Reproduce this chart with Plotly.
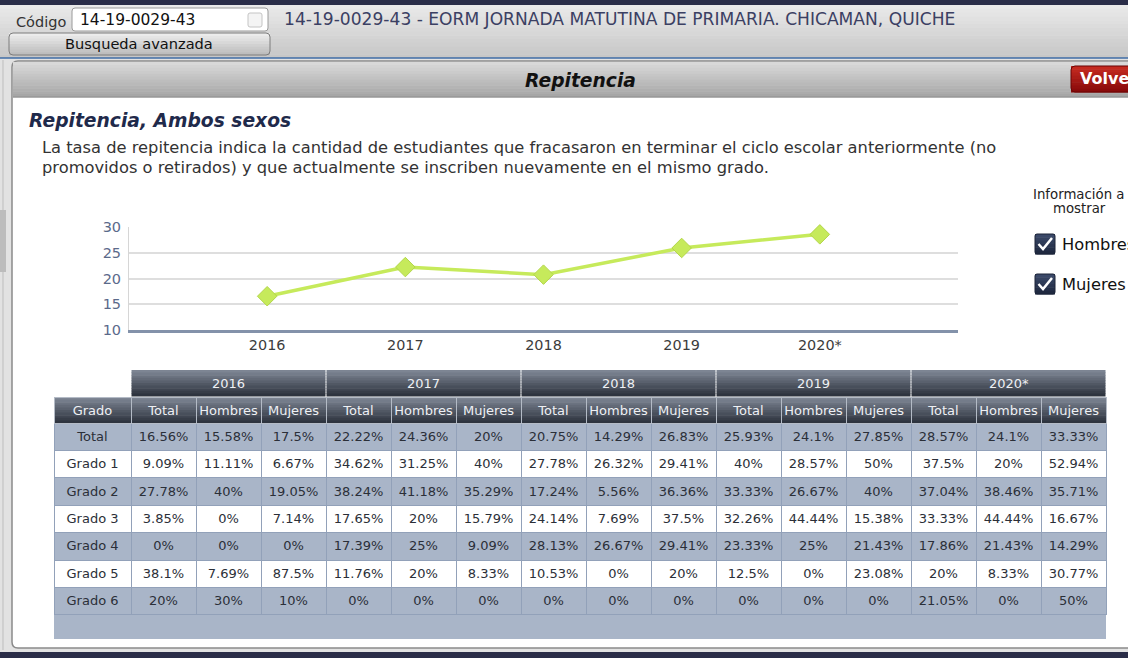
import plotly.graph_objects as go

W, H = 1128, 658

# ---------------- data ----------------
years = ["2016", "2017", "2018", "2019", "2020*"]
total_rate = [16.56, 22.22, 20.75, 25.93, 28.57]
grades = ["Total", "Grado 1", "Grado 2", "Grado 3", "Grado 4", "Grado 5", "Grado 6"]
sub_cols = ["Total", "Hombres", "Mujeres"]

t2016 = [16.56, 9.09, 27.78, 3.85, 0, 38.1, 20]
h2016 = [15.58, 11.11, 40, 0, 0, 7.69, 30]
m2016 = [17.5, 6.67, 19.05, 7.14, 0, 87.5, 10]
t2017 = [22.22, 34.62, 38.24, 17.65, 17.39, 11.76, 0]
h2017 = [24.36, 31.25, 41.18, 20, 25, 20, 0]
m2017 = [20, 40, 35.29, 15.79, 9.09, 8.33, 0]
t2018 = [20.75, 27.78, 17.24, 24.14, 28.13, 10.53, 0]
h2018 = [14.29, 26.32, 5.56, 7.69, 26.67, 0, 0]
m2018 = [26.83, 29.41, 36.36, 37.5, 29.41, 20, 0]
t2019 = [25.93, 40, 33.33, 32.26, 23.33, 12.5, 0]
h2019 = [24.1, 28.57, 26.67, 44.44, 25, 0, 0]
m2019 = [27.85, 50, 40, 15.38, 21.43, 23.08, 0]
t2020 = [28.57, 37.5, 37.04, 33.33, 17.86, 20, 21.05]
h2020 = [24.1, 20, 38.46, 44.44, 21.43, 8.33, 0]
m2020 = [33.33, 52.94, 35.71, 16.67, 14.29, 30.77, 50]

year_cols = [(t2016, h2016, m2016), (t2017, h2017, m2017), (t2018, h2018, m2018),
             (t2019, h2019, m2019), (t2020, h2020, m2020)]

school_code = "14-19-0029-43"
school_name = "14-19-0029-43 - EORM JORNADA MATUTINA DE PRIMARIA. CHICAMAN, QUICHE"
panel_title = "Repitencia"
chart_title = "Repitencia, Ambos sexos"
desc1 = "La tasa de repitencia indica la cantidad de estudiantes que fracasaron en terminar el ciclo escolar anteriormente (no"
desc2 = "promovidos o retirados) y que actualmente se inscriben nuevamente en el mismo grado."

FONT = "DejaVu Sans"


def X(p):
    return p / W


def Y(p):
    return 1 - p / H


shapes = []
annotations = []


def rect(x0, y0, x1, y1, fill, line=None, lw=0, layer="below"):
    shapes.append(dict(type="rect", xref="paper", yref="paper",
                       x0=X(x0), x1=X(x1), y0=Y(y1), y1=Y(y0),
                       fillcolor=fill, line=dict(color=line or fill, width=lw),
                       layer=layer))


def hex2rgb(h):
    h = h.lstrip("#")
    return [int(h[i:i + 2], 16) for i in (0, 2, 4)]


def grad(x0, y0, x1, y1, c0, c1, n=10, layer="below"):
    a, b = hex2rgb(c0), hex2rgb(c1)
    step = (y1 - y0) / n
    for i in range(n):
        t = i / max(n - 1, 1)
        c = "rgb(%d,%d,%d)" % tuple(round(a[k] + (b[k] - a[k]) * t) for k in range(3))
        rect(x0, y0 + i * step, x1, y0 + (i + 1) * step + 0.5, c, layer=layer)


def rrect(x0, y0, x1, y1, r, fill="rgba(0,0,0,0)", line="#777", lw=1, layer="below"):
    p = (f"M {X(x0 + r)},{Y(y0)} L {X(x1 - r)},{Y(y0)} Q {X(x1)},{Y(y0)} {X(x1)},{Y(y0 + r)} "
         f"L {X(x1)},{Y(y1 - r)} Q {X(x1)},{Y(y1)} {X(x1 - r)},{Y(y1)} "
         f"L {X(x0 + r)},{Y(y1)} Q {X(x0)},{Y(y1)} {X(x0)},{Y(y1 - r)} "
         f"L {X(x0)},{Y(y0 + r)} Q {X(x0)},{Y(y0)} {X(x0 + r)},{Y(y0)} Z")
    shapes.append(dict(type="path", xref="paper", yref="paper", path=p,
                       fillcolor=fill, line=dict(color=line, width=lw), layer=layer))


def line(x0, y0, x1, y1, color, w=1, layer="below"):
    shapes.append(dict(type="line", xref="paper", yref="paper",
                       x0=X(x0), x1=X(x1), y0=Y(y0), y1=Y(y1),
                       line=dict(color=color, width=w), layer=layer))


def text(x, y, s, size=13, color="#333333", xanchor="left", family=FONT):
    annotations.append(dict(x=X(x), y=Y(y), xref="paper", yref="paper", text=s,
                            showarrow=False, xanchor=xanchor, yanchor="middle",
                            font=dict(family=family, size=size, color=color)))


# ---------------- page chrome ----------------
rect(0, 0, W, 5, "#2a2d48")
grad(0, 5, W, 58, "#e9e9e9", "#c7c7c7", 14)
line(0, 58, W, 58, "#3f6da6", 1.5)
rect(0, 59, W, 652, "#e2e2e2")
rect(0, 652, W, H, "#2a2d48")
line(3, 60, 3, 650, "#bdbdbd", 1)
rect(0, 210, 6, 272, "#bcbcbc")

# code input box + button
rrect(72, 8, 268, 31, 3, fill="#ffffff", line="#9a9a9a", lw=1)
rrect(248, 13, 262, 27, 2, fill="#f4f4f4", line="#c4c4c4", lw=1)
text(14, 22, "Código", 14.5, "#333333")
text(78, 20, school_code, 15.5, "#111111")
grad(9, 33, 270, 55, "#ececec", "#bdbdbd", 8)
rrect(9, 33, 270, 55, 4, line="#7c7c7c", lw=1)
text(139, 44, "Busqueda avanzada", 14.6, "#111111", "center")
text(282, 19, school_name, 17.1, "#3b4063")

# panel
rrect(12, 61, 1145, 648, 6, fill="#ffffff", line="#8a8a8a", lw=1.5)
grad(13, 62, W, 97, "#d9d9d9", "#a6a6a6", 12)
line(13, 97, W, 97, "#8f8f8f", 1)
text(580, 80, "<b><i>" + panel_title + "</i></b>", 18.7, "#111111", "center")
grad(1071, 66, W, 92, "#c42a20", "#8a0b0b", 8)
rrect(1071, 66, 1140, 92, 4, line="#6a0505", lw=1)
text(1078, 79, "<b>Volver</b>", 16, "#ffffff")

# titles
text(27, 120, "<b><i>" + chart_title + "</i></b>", 18.7, "#1f2a4b")
text(40, 148, desc1, 16.3, "#333333")
text(40, 167, desc2, 16.3, "#333333")

# right-hand options
text(1078, 194, "Información a", 13.3, "#222222", "center")
text(1079, 209, "mostrar", 13.3, "#222222", "center")
for cy, lab in [(244, "Hombres"), (284, "Mujeres")]:
    grad(1035, cy - 10, 1055, cy + 10, "#3a4868", "#1f2940", 6)
    rrect(1035, cy - 10, 1055, cy + 10, 2, line="#1c2438", lw=1)
    shapes.append(dict(type="path", xref="paper", yref="paper",
                       path=f"M {X(1038.5)},{Y(cy)} L {X(1043)},{Y(cy + 5)} L {X(1052)},{Y(cy - 6)}",
                       line=dict(color="#ffffff", width=2.5), layer="above"))
    text(1060, cy, lab, 16.3, "#111111")

# table year header row
YW = 195
for i, yr in enumerate(years):
    x0 = 131 + i * YW
    grad(x0 + 0.5, 370, x0 + YW - 0.5, 396, "#7d8593", "#2e343f", 10)
    text(x0 + YW / 2, 383, yr, 13, "#eef0f4", "center")
# table sub-header gradient
grad(54, 397, 1106, 423, "#7d8593", "#2e343f", 10)
# filler under table
rect(54, 614, 1106, 639, "#a9b5c8")

# ---------------- traces ----------------
fig = go.Figure()
fig.add_trace(go.Scatter(
    x=years, y=total_rate, mode="lines+markers",
    line=dict(color="#c6ea5b", width=3.5),
    marker=dict(symbol="diamond", size=15, color="#c6ea5b", line=dict(color="#b3d64a", width=1)),
    hoverinfo="skip", showlegend=False, cliponaxis=False))

row_fill = ["#a9b5c8" if i % 2 == 0 else "#ffffff" for i in range(len(grades))]
cell_values = [grades]
for cols in year_cols:
    for c in cols:
        cell_values.append([f"{v:g}%" for v in c])

fig.add_trace(go.Table(
    domain=dict(x=[X(54), X(1106)], y=[Y(640), Y(397)]),
    columnwidth=[77] + [65] * 15,
    header=dict(values=["Grado"] + sub_cols * len(years), height=26,
                fill=dict(color="rgba(0,0,0,0)"),
                line=dict(color="#b4bbc6", width=1),
                font=dict(family=FONT, size=13, color="#eef0f4"), align="center"),
    cells=dict(values=cell_values, height=27.4,
               fill=dict(color=[row_fill] * len(cell_values)),
               line=dict(color="#92a1b9", width=1),
               font=dict(family=FONT, size=13, color="#2b2f38"), align="center"),
))

fig.update_layout(
    template="none",
    width=W, height=H, margin=dict(l=0, r=0, t=0, b=0, pad=0, autoexpand=False),
    paper_bgcolor="#ffffff", plot_bgcolor="#ffffff",
    shapes=shapes, annotations=annotations, showlegend=False,
    xaxis=dict(domain=[X(129), X(958)], type="category", range=[-1, 5], automargin=False,
               showgrid=False, zeroline=False, showline=True, linecolor="#8392aa", linewidth=2.5,
               ticks="", tickfont=dict(family=FONT, size=14.4, color="#3c3c3c"), fixedrange=True),
    yaxis=dict(domain=[Y(330), Y(227)], range=[10, 30], dtick=5, automargin=False,
               showgrid=True, gridcolor="#dedede", gridwidth=1.5, zeroline=False,
               showline=True, linecolor="#d6d6d6", linewidth=1,
               ticks="outside", ticklen=4, tickcolor="rgba(0,0,0,0)",
               tickfont=dict(family=FONT, size=14.5, color="#5b6a8a"), fixedrange=True),
)

post = ("document.documentElement.style.margin='0px';"
        "document.body.style.margin='0px';document.body.style.padding='0px';"
        "document.body.style.overflow='hidden';"
        "var d=document.getElementById('{plot_id}');"
        "d.style.position='fixed';d.style.top='0px';d.style.left='0px';")
fig.write_html("out.html", config={"displayModeBar": False}, post_script=post)
